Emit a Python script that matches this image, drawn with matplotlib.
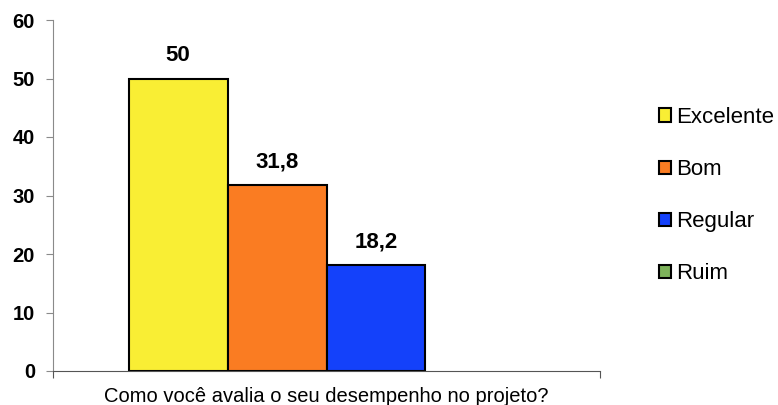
import matplotlib
matplotlib.use("Agg")
import matplotlib.pyplot as plt
from matplotlib.patches import Patch

# ── Dados ────────────────────────────────────────────────────────────────
categorias = ["Excelente", "Bom", "Regular", "Ruim"]
valores    = [50, 31.8, 18.2, 0]
rotulos    = ["50", "31,8", "18,2", ""]
cores      = ["#F9EE34", "#FA7C22", "#1441FA", "#7DB25A"]
pergunta   = "Como você avalia o seu desempenho no projeto?"

plt.rcParams["font.family"] = ["Liberation Sans", "DejaVu Sans"]

fig = plt.figure(figsize=(7.78, 4.05), dpi=100)
ax = fig.add_axes([53 / 778, 1 - 371 / 405, 547 / 778, 351 / 405])

x = list(range(len(categorias)))
bars = ax.bar(x, valores, width=1.0, color=cores, edgecolor="black",
              linewidth=[1.5 if v > 0 else 0 for v in valores], zorder=2)

for b, v, r in zip(bars, valores, rotulos):
    if r:
        ax.annotate(r, (b.get_x() + b.get_width() / 2, v),
                    xytext=(0, 9), textcoords="offset points",
                    ha="center", va="bottom", fontsize=16, fontweight="bold")

ax.set_ylim(0, 60)
ax.set_yticks(range(0, 61, 10))
ax.set_xlim(-1.266, 4.266)
ax.set_xticks([-1.266, 4.266])
ax.set_xticklabels(["", ""])

for s in ("top", "right"):
    ax.spines[s].set_visible(False)
ax.spines["left"].set_color("#8a8a8a")
ax.spines["bottom"].set_color("#555555")
ax.tick_params(axis="y", colors="#8a8a8a", length=5, labelcolor="black",
               labelsize=14.5, pad=8)
ax.tick_params(axis="x", colors="#555555", length=5)
for t in ax.get_yticklabels():
    t.set_fontweight("bold")

fig.text(326 / 778, 1 - 396 / 405, pergunta, ha="center", va="center",
         fontsize=14.5)

handles = [Patch(facecolor=c, edgecolor="black", linewidth=1.5) for c in cores]
fig.legend(handles, categorias, loc="upper left",
           bbox_to_anchor=(659 / 778, 1 - 107 / 405), frameon=False,
           fontsize=16, handlelength=0.55, handleheight=0.55,
           handletextpad=0.2, labelspacing=1.4, borderpad=0,
           borderaxespad=0)

fig.savefig("out.png", dpi=100)
